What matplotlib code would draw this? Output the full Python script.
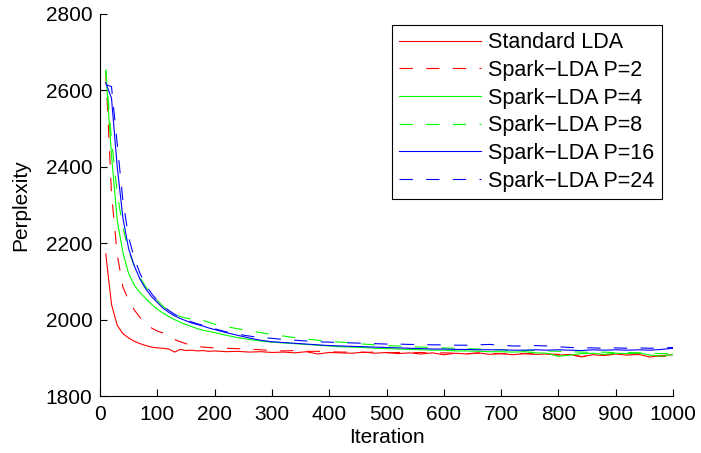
import matplotlib
matplotlib.use('Agg')
import matplotlib.pyplot as plt

plt.rcParams['font.family'] = ['Liberation Sans', 'DejaVu Sans']

iterations = list(range(10, 210, 10)) + list(range(220, 1020, 20))

standard_lda = [2172, 2040, 1985, 1963, 1952, 1943, 1937, 1932, 1928, 1926,
                1925, 1923, 1915, 1922, 1919, 1920, 1918, 1919, 1917, 1918,
                1916, 1917, 1915, 1916, 1914, 1915, 1913, 1916, 1910, 1914,
                1913, 1912, 1915, 1912, 1914, 1911, 1913, 1910, 1913, 1908,
                1912, 1910, 1913, 1909, 1911, 1908, 1911, 1909, 1910, 1907,
                1909, 1903, 1908, 1906, 1910, 1907, 1909, 1902, 1906, 1908]
spark_p2 = [2650, 2330, 2170, 2085, 2050, 2025, 2005, 1990, 1978, 1970,
            1965, 1955, 1948, 1942, 1937, 1933, 1930, 1928, 1927, 1926,
            1925, 1924, 1923, 1921, 1919, 1918, 1919, 1917, 1917, 1916,
            1915, 1915, 1914, 1915, 1913, 1914, 1913, 1914, 1912, 1913,
            1912, 1911, 1912, 1911, 1911, 1910, 1911, 1910, 1910, 1909,
            1908, 1903, 1906, 1908, 1909, 1911, 1910, 1908, 1903, 1906]
spark_p4 = [2650, 2430, 2260, 2175, 2120, 2090, 2070, 2055, 2040, 2027,
            2017, 2008, 2000, 1993, 1987, 1982, 1976, 1972, 1969, 1966,
            1959, 1953, 1948, 1944, 1941, 1939, 1937, 1935, 1933, 1931,
            1929, 1928, 1927, 1925, 1924, 1923, 1922, 1921, 1920, 1920,
            1918, 1918, 1917, 1916, 1916, 1915, 1916, 1913, 1912, 1904,
            1907, 1911, 1912, 1909, 1912, 1911, 1913, 1907, 1904, 1909]
spark_p8 = [2655, 2470, 2330, 2240, 2180, 2140, 2110, 2085, 2065, 2050,
            2035, 2022, 2014, 2008, 2004, 2001, 2002, 1998, 1993, 1988,
            1982, 1976, 1971, 1966, 1961, 1957, 1953, 1949, 1946, 1943,
            1941, 1939, 1936, 1934, 1932, 1931, 1929, 1928, 1927, 1926,
            1925, 1924, 1923, 1922, 1921, 1920, 1919, 1919, 1918, 1917,
            1916, 1915, 1914, 1915, 1913, 1914, 1913, 1912, 1911, 1912]
spark_p16 = [2620, 2580, 2400, 2265, 2185, 2140, 2105, 2080, 2060, 2045,
             2030, 2019, 2010, 2003, 1997, 1991, 1987, 1983, 1978, 1974,
             1966, 1959, 1952, 1946, 1942, 1940, 1938, 1936, 1934, 1932,
             1931, 1930, 1929, 1928, 1927, 1926, 1925, 1924, 1923, 1923,
             1922, 1922, 1921, 1921, 1921, 1920, 1920, 1921, 1920, 1921,
             1920, 1919, 1921, 1920, 1921, 1920, 1921, 1920, 1922, 1925]
spark_p24 = [2615, 2610, 2460, 2310, 2215, 2160, 2120, 2090, 2068, 2050,
             2035, 2024, 2014, 2006, 2000, 1994, 1989, 1985, 1980, 1976,
             1968, 1962, 1957, 1953, 1951, 1948, 1946, 1944, 1942, 1941,
             1940, 1939, 1938, 1937, 1936, 1936, 1935, 1935, 1934, 1934,
             1933, 1933, 1934, 1935, 1933, 1931, 1931, 1932, 1931, 1929,
             1927, 1926, 1926, 1925, 1926, 1925, 1926, 1925, 1926, 1927]

labels = ['Standard LDA', 'Spark\u2212LDA P=2', 'Spark\u2212LDA P=4',
          'Spark\u2212LDA P=8', 'Spark\u2212LDA P=16', 'Spark\u2212LDA P=24']
series = [standard_lda, spark_p2, spark_p4, spark_p8, spark_p16, spark_p24]
colors = ['#ff0000', '#ff0000', '#00ff00', '#00ff00', '#0000ff', '#0000ff']
dashed = [False, True, False, True, False, True]

fig = plt.figure(figsize=(7.01, 4.53), dpi=100)
ax = fig.add_axes([0.1427, 0.1258, 0.8174, 0.8433])

for y, lab, c, d in zip(series, labels, colors, dashed):
    line, = ax.plot(iterations, y, color=c, linewidth=0.8, label=lab)
    if d:
        line.set_dashes((12, 12))

ax.set_xlim(0, 1000)
ax.set_ylim(1800, 2800)
ax.set_xticks(range(0, 1001, 100))
ax.set_yticks(range(1800, 2801, 200))
ax.spines['top'].set_visible(False)
ax.spines['right'].set_visible(False)
for s in ['left', 'bottom']:
    ax.spines[s].set_linewidth(0.8)
ax.tick_params(direction='in', length=5, labelsize=15, width=0.8)
ax.tick_params(axis='x', pad=6.5)
ax.tick_params(axis='y', pad=5.5)
ax.set_xlabel('Iteration', fontsize=15, labelpad=3)
ax.set_ylabel('Perplexity', fontsize=15, labelpad=11)

leg = ax.legend(loc='upper right', fontsize=15.5, handlelength=3.8,
                labelspacing=0.31, borderaxespad=0.5, fancybox=False,
                framealpha=1, edgecolor='black', borderpad=0.35,
                handletextpad=0.35)
leg.get_frame().set_linewidth(0.8)

fig.savefig('out.png', dpi=100)
